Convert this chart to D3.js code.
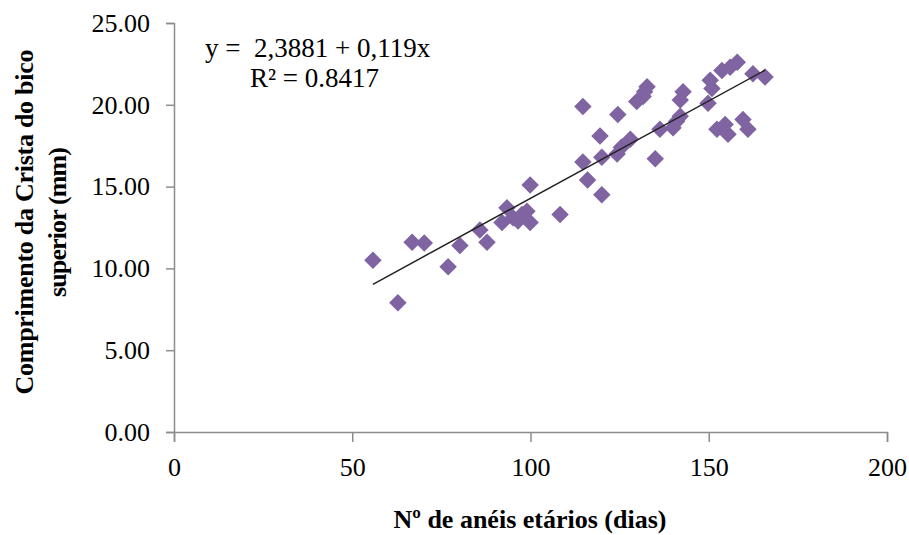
<!DOCTYPE html>
<html lang="pt">
<head>
<meta charset="utf-8">
<title>Crista do bico vs anéis etários</title>
<script src="https://d3js.org/d3.v7.min.js"></script>
<style>
  body { margin: 0; background: #fff; }
  text { font-family: "Liberation Serif", "Times New Roman", serif; fill: #000; }
</style>
</head>
<body>
<div id="chart"></div>
<script>
// age rings (days) and upper bill crest length (mm)
var ringsDays = [55.8, 62.8, 66.8, 70.2, 76.9, 80.2, 85.8, 87.8, 92, 93.4, 95.1, 96.5, 97.6, 99, 99.9,
                 99.9, 108.3, 114.7, 114.7, 116, 119.5, 120, 120, 124.3, 124.5, 125.5, 128, 129.8, 131.6,
                 132.7, 132, 135, 136.3, 140, 141, 142, 142, 142.8, 149.8, 150.4, 150.9, 152.3, 153.7,
                 154.6, 155.4, 156, 158, 159.6, 161, 162.4, 165.8];
var crestMm   = [10.5, 7.9, 11.6, 11.55, 10.1, 11.4, 12.35, 11.6, 12.8, 13.7, 13.1, 12.9, 13.3, 13.5, 12.8,
                 15.1, 13.3, 19.9, 16.5, 15.4, 18.1, 16.8, 14.5, 17.0, 19.4, 17.4, 17.9, 20.2, 20.5,
                 21.1, 20.8, 16.7, 18.5, 18.6, 19.0, 19.3, 20.3, 20.8, 20.1, 21.5, 21.0, 18.5, 22.1,
                 18.8, 18.2, 22.3, 22.6, 19.1, 18.5, 21.9, 21.7];
var xTicks = [0, 50, 100, 150, 200];
var yTicks = [0, 5, 10, 15, 20, 25];
var fitA = 2.3881, fitB = 0.119;

var w = 909, h = 535;
var mLeft = 174, mRight = 887, mTop = 23, mBottom = 432;

var svg = d3.select("#chart").append("svg")
  .attr("width", w).attr("height", h);

var x = d3.scaleLinear().domain([0, 200]).range([mLeft, mRight]);
var y = d3.scaleLinear().domain([0, 25]).range([mBottom, mTop]);

// axes
svg.append("g").attr("class", "axis")
  .attr("transform", "translate(" + mLeft + ",0)")
  .call(d3.axisLeft(y).tickValues(yTicks).tickSize(8).tickSizeOuter(8)
    .tickFormat(d3.format(".2f")).tickPadding(16));
svg.append("g").attr("class", "axis")
  .attr("transform", "translate(0," + mBottom + ")")
  .call(d3.axisBottom(x).tickValues(xTicks).tickSize(10).tickSizeOuter(10).tickPadding(16));

svg.selectAll(".axis text").attr("font-size", "26px")
  .attr("font-family", "Liberation Serif").attr("fill", "#000");
svg.selectAll(".axis path").attr("stroke", "#8c8c8c").attr("stroke-width", 1.5);
svg.selectAll(".axis line").attr("stroke", "#8c8c8c").attr("stroke-width", 1.5);

// points
var pts = ringsDays.map(function(d, i) { return [d, crestMm[i]]; });
svg.selectAll(".pt")
  .data(pts)
  .enter()
  .append("path")
  .attr("class", "pt")
  .attr("d", d3.symbol().type(d3.symbolDiamond2).size(195))
  .attr("transform", function(d) { return "translate(" + x(d[0]) + "," + y(d[1]) + ")"; })
  .attr("fill", "#8064a2");

// trend line
var xMin = d3.min(ringsDays), xMax = d3.max(ringsDays);
svg.append("line")
  .attr("x1", x(xMin)).attr("y1", y(fitA + fitB * xMin))
  .attr("x2", x(xMax)).attr("y2", y(fitA + fitB * xMax))
  .attr("stroke", "#222").attr("stroke-width", 1.5);

// equation
svg.append("text").attr("x", 205).attr("y", 57).attr("font-size", "27px")
  .attr("xml:space", "preserve")
  .text("y =  2,3881 + 0,119x");
svg.append("text").attr("x", 250).attr("y", 87).attr("font-size", "27px")
  .text("R² = 0.8417");

// axis titles
svg.append("text")
  .attr("x", 530).attr("y", 528)
  .attr("text-anchor", "middle").attr("font-size", "26px").attr("font-weight", "bold")
  .text("Nº de anéis etários (dias)");

var yt = svg.append("text")
  .attr("transform", "translate(33,222) rotate(-90)")
  .attr("text-anchor", "middle").attr("font-size", "26px").attr("font-weight", "bold");
yt.append("tspan").attr("x", 0).attr("y", 0)
  .attr("textLength", 345).attr("lengthAdjust", "spacing")
  .text("Comprimento da Crista do bico");
yt.append("tspan").attr("x", 0).attr("y", 33)
  .attr("textLength", 150).attr("lengthAdjust", "spacing")
  .text("superior (mm)");
</script>
</body>
</html>
